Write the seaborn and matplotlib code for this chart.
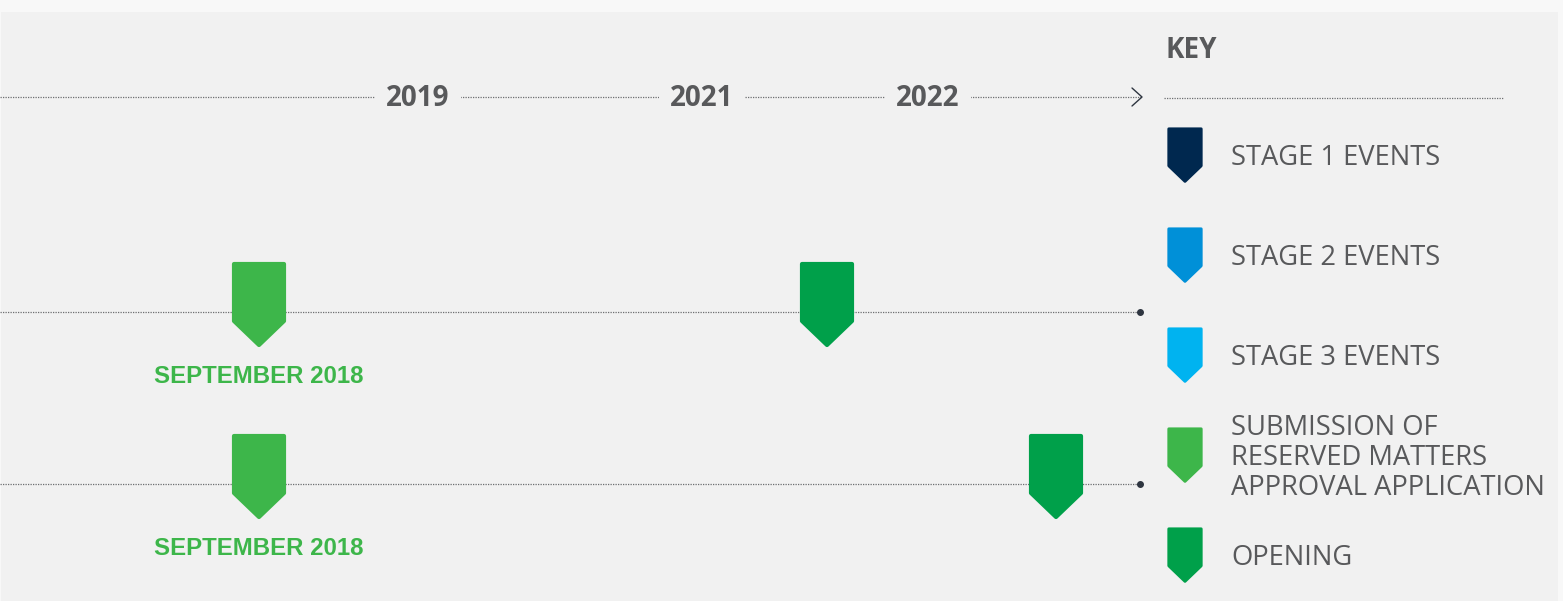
import seaborn as sns
import matplotlib.pyplot as plt
import pandas as pd
from matplotlib.path import Path
from matplotlib.patches import Rectangle

# timeline data (positions along the schematic timeline)
years = ["2019", "2021", "2022"]
year_pos = [418, 702, 928]

lanes = [0, 0, 1, 1]
event_pos = [259, 827, 259, 1056]
event_kind = ["submission", "opening", "submission", "opening"]
event_label = ["SEPTEMBER 2018", "", "SEPTEMBER 2018", ""]

key_kinds = ["stage1", "stage2", "stage3", "submission", "opening"]
key_labels = ["STAGE 1 EVENTS", "STAGE 2 EVENTS", "STAGE 3 EVENTS",
              "SUBMISSION OF\nRESERVED MATTERS\nAPPROVAL APPLICATION", "OPENING"]

palette = {"stage1": "#00284f", "stage2": "#0090d8", "stage3": "#00b3f0",
           "submission": "#3db64a", "opening": "#00a04a"}

sns.set_theme(style="white")
plt.rcParams["font.family"] = ["Open Sans", "DejaVu Sans"]

TEXT = "#58595b"
BG = "#f1f1f1"
LINE = "#6d6e71"
DOT = "#2e3540"

fig = plt.figure(figsize=(15.63, 6.01), dpi=100, facecolor="#f8f8f8")
ax = fig.add_axes([0, 0, 1, 1])
ax.set_xlim(0, 1563)
ax.set_ylim(601, 0)
ax.axis("off")
ax.add_patch(Rectangle((1, 12), 1557, 600, facecolor=BG, edgecolor="none", zorder=0))

# pin shaped marker, anchor on the lane line (rounded by a thick round-joined edge)
pin = Path([(-25, 48), (25, 48), (25, -9), (0, -33), (-25, -9), (-25, 48)],
           [Path.MOVETO, Path.LINETO, Path.LINETO, Path.LINETO, Path.LINETO, Path.CLOSEPOLY])
pin_size = (2 * 48 * 0.72) ** 2

# timeline axis on top
ax.hlines(97, 0, 1141, color=LINE, lw=0.9, linestyles=(0, (1, 1)), zorder=1)
ax.plot([1132, 1142, 1132], [88, 97, 106], color=DOT, lw=1.0, zorder=2)
for yr, xp in zip(years, year_pos):
    ax.text(xp, 106, yr, ha="center", va="baseline", fontsize=20, fontweight="bold",
            color=TEXT, zorder=3,
            bbox=dict(boxstyle="square,pad=0.4", fc=BG, ec="none"))

# lanes
events = pd.DataFrame({"lane": lanes, "pos": event_pos, "kind": event_kind, "label": event_label})
events["y"] = 312 + 172 * events["lane"]
for ly in events["y"].unique():
    ax.hlines(ly, 0, 1139, color=LINE, lw=0.9, linestyles=(0, (1, 1)), zorder=1)
    ax.plot(1140, ly, "o", color=DOT, ms=4, zorder=2)

sns.scatterplot(data=events, x="pos", y="y", hue="kind", palette=palette, marker=pin,
                s=pin_size, edgecolor="face", linewidth=3.0, joinstyle="round",
                legend=False, ax=ax, zorder=4)

for _, row in events.iterrows():
    if row["label"]:
        ax.text(row["pos"], row["y"] + 71, row["label"], ha="center", va="baseline",
                fontsize=17.3, fontweight="bold", color="#3db64a",
                family=["Liberation Sans", "DejaVu Sans"])

# key
ax.text(1165, 58, "KEY", ha="left", va="baseline", fontsize=20, fontweight="bold", color=TEXT)
ax.hlines(98, 1164, 1504, color=LINE, lw=0.9, linestyles=(0, (1, 1)))

key = pd.DataFrame({"kind": key_kinds, "label": key_labels})
key["cy"] = [155 + 100 * i for i in range(len(key))]
key["x"] = 1185
key["y"] = key["cy"] + 5
sns.scatterplot(data=key, x="x", y="y", hue="kind", palette=palette, marker=pin,
                s=pin_size * 0.65 ** 2, edgecolor="face", linewidth=2.0, joinstyle="round",
                legend=False, ax=ax, zorder=4)
for _, row in key.iterrows():
    lines = row["label"].split("\n")
    n = len(lines)
    for j, txt in enumerate(lines):
        base = row["cy"] + 10 + (j - (n - 1) / 2) * 30
        ax.text(1231, base, txt, ha="left", va="baseline", fontsize=19.7, color=TEXT)

ax.set_xlim(0, 1563)
ax.set_ylim(601, 0)
plt.savefig("out.png", dpi=100, facecolor=fig.get_facecolor())
plt.close()
